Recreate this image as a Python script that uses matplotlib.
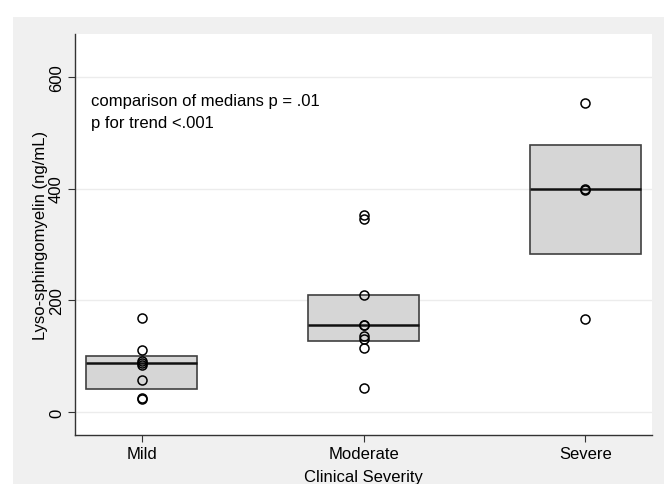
import matplotlib.pyplot as plt
from matplotlib.patches import Rectangle

plt.rcParams['font.family'] = ['Liberation Sans', 'DejaVu Sans']

# groups
categories = ['Mild', 'Moderate', 'Severe']
positions = [1, 2, 3]

# individual observations (ng/mL)
mild = [168, 112, 91, 88, 85, 57, 25, 23]
moderate = [353, 346, 210, 156, 156, 136, 131, 114, 43]
severe = [553, 400, 397, 167]

# box: 25th percentile, median, 75th percentile as drawn
q1 = [41, 128, 283]
medians = [87, 156, 399]
q3 = [100, 209, 478]

yticks = [0, 200, 400, 600]

fig = plt.figure(figsize=(6.64, 4.85), dpi=100)
fig.patch.set_facecolor('white')
# light grey graph region
fig.patches.append(Rectangle((0.019, 0), 0.981, 0.963, transform=fig.transFigure,
                             facecolor='#f0f0f0', edgecolor='none', zorder=-1))

ax = fig.add_axes([0.113, 0.101, 0.869, 0.826])
ax.set_zorder(2)
ax.set_facecolor('white')

# boxes
heights = [b - a for a, b in zip(q1, q3)]
ax.bar(positions, heights, width=0.5, bottom=q1, color='#d6d6d6',
       edgecolor='#404040', linewidth=1.2, zorder=2)
ax.hlines(medians, [p - 0.25 for p in positions], [p + 0.25 for p in positions],
          color='#111111', linewidth=1.8, zorder=3)

# points
for pos, vals in zip(positions, [mild, moderate, severe]):
    ax.plot([pos] * len(vals), vals, linestyle='none', marker='o', markersize=6.5,
            markerfacecolor='none', markeredgecolor='black', markeredgewidth=1.1, zorder=4)

ax.set_xlim(0.7, 3.3)
ax.set_ylim(-41, 676)
ax.set_yticks(yticks)
ax.set_yticklabels([str(t) for t in yticks], rotation=90, va='center')
ax.set_xticks(positions)
ax.set_xticklabels(categories)
ax.tick_params(axis='both', labelsize=12, color='#333333', length=5)
ax.tick_params(axis='x', pad=3)
ax.tick_params(axis='y', pad=3)
ax.grid(axis='y', color='#ececec', linewidth=1)
ax.set_axisbelow(True)

for s in ['top', 'right']:
    ax.spines[s].set_visible(False)
for s in ['left', 'bottom']:
    ax.spines[s].set_color('#333333')
    ax.spines[s].set_linewidth(1)

ax.set_ylabel('Lyso-sphingomyelin (ng/mL)', fontsize=12, labelpad=1)
ax.set_xlabel('Clinical Severity', fontsize=12, labelpad=6)

ax.text(0.028, 0.853, 'comparison of medians p = .01\np for trend <.001',
        transform=ax.transAxes, fontsize=12, va='top', ha='left', linespacing=1.55)

fig.savefig('out.png', dpi=100)
